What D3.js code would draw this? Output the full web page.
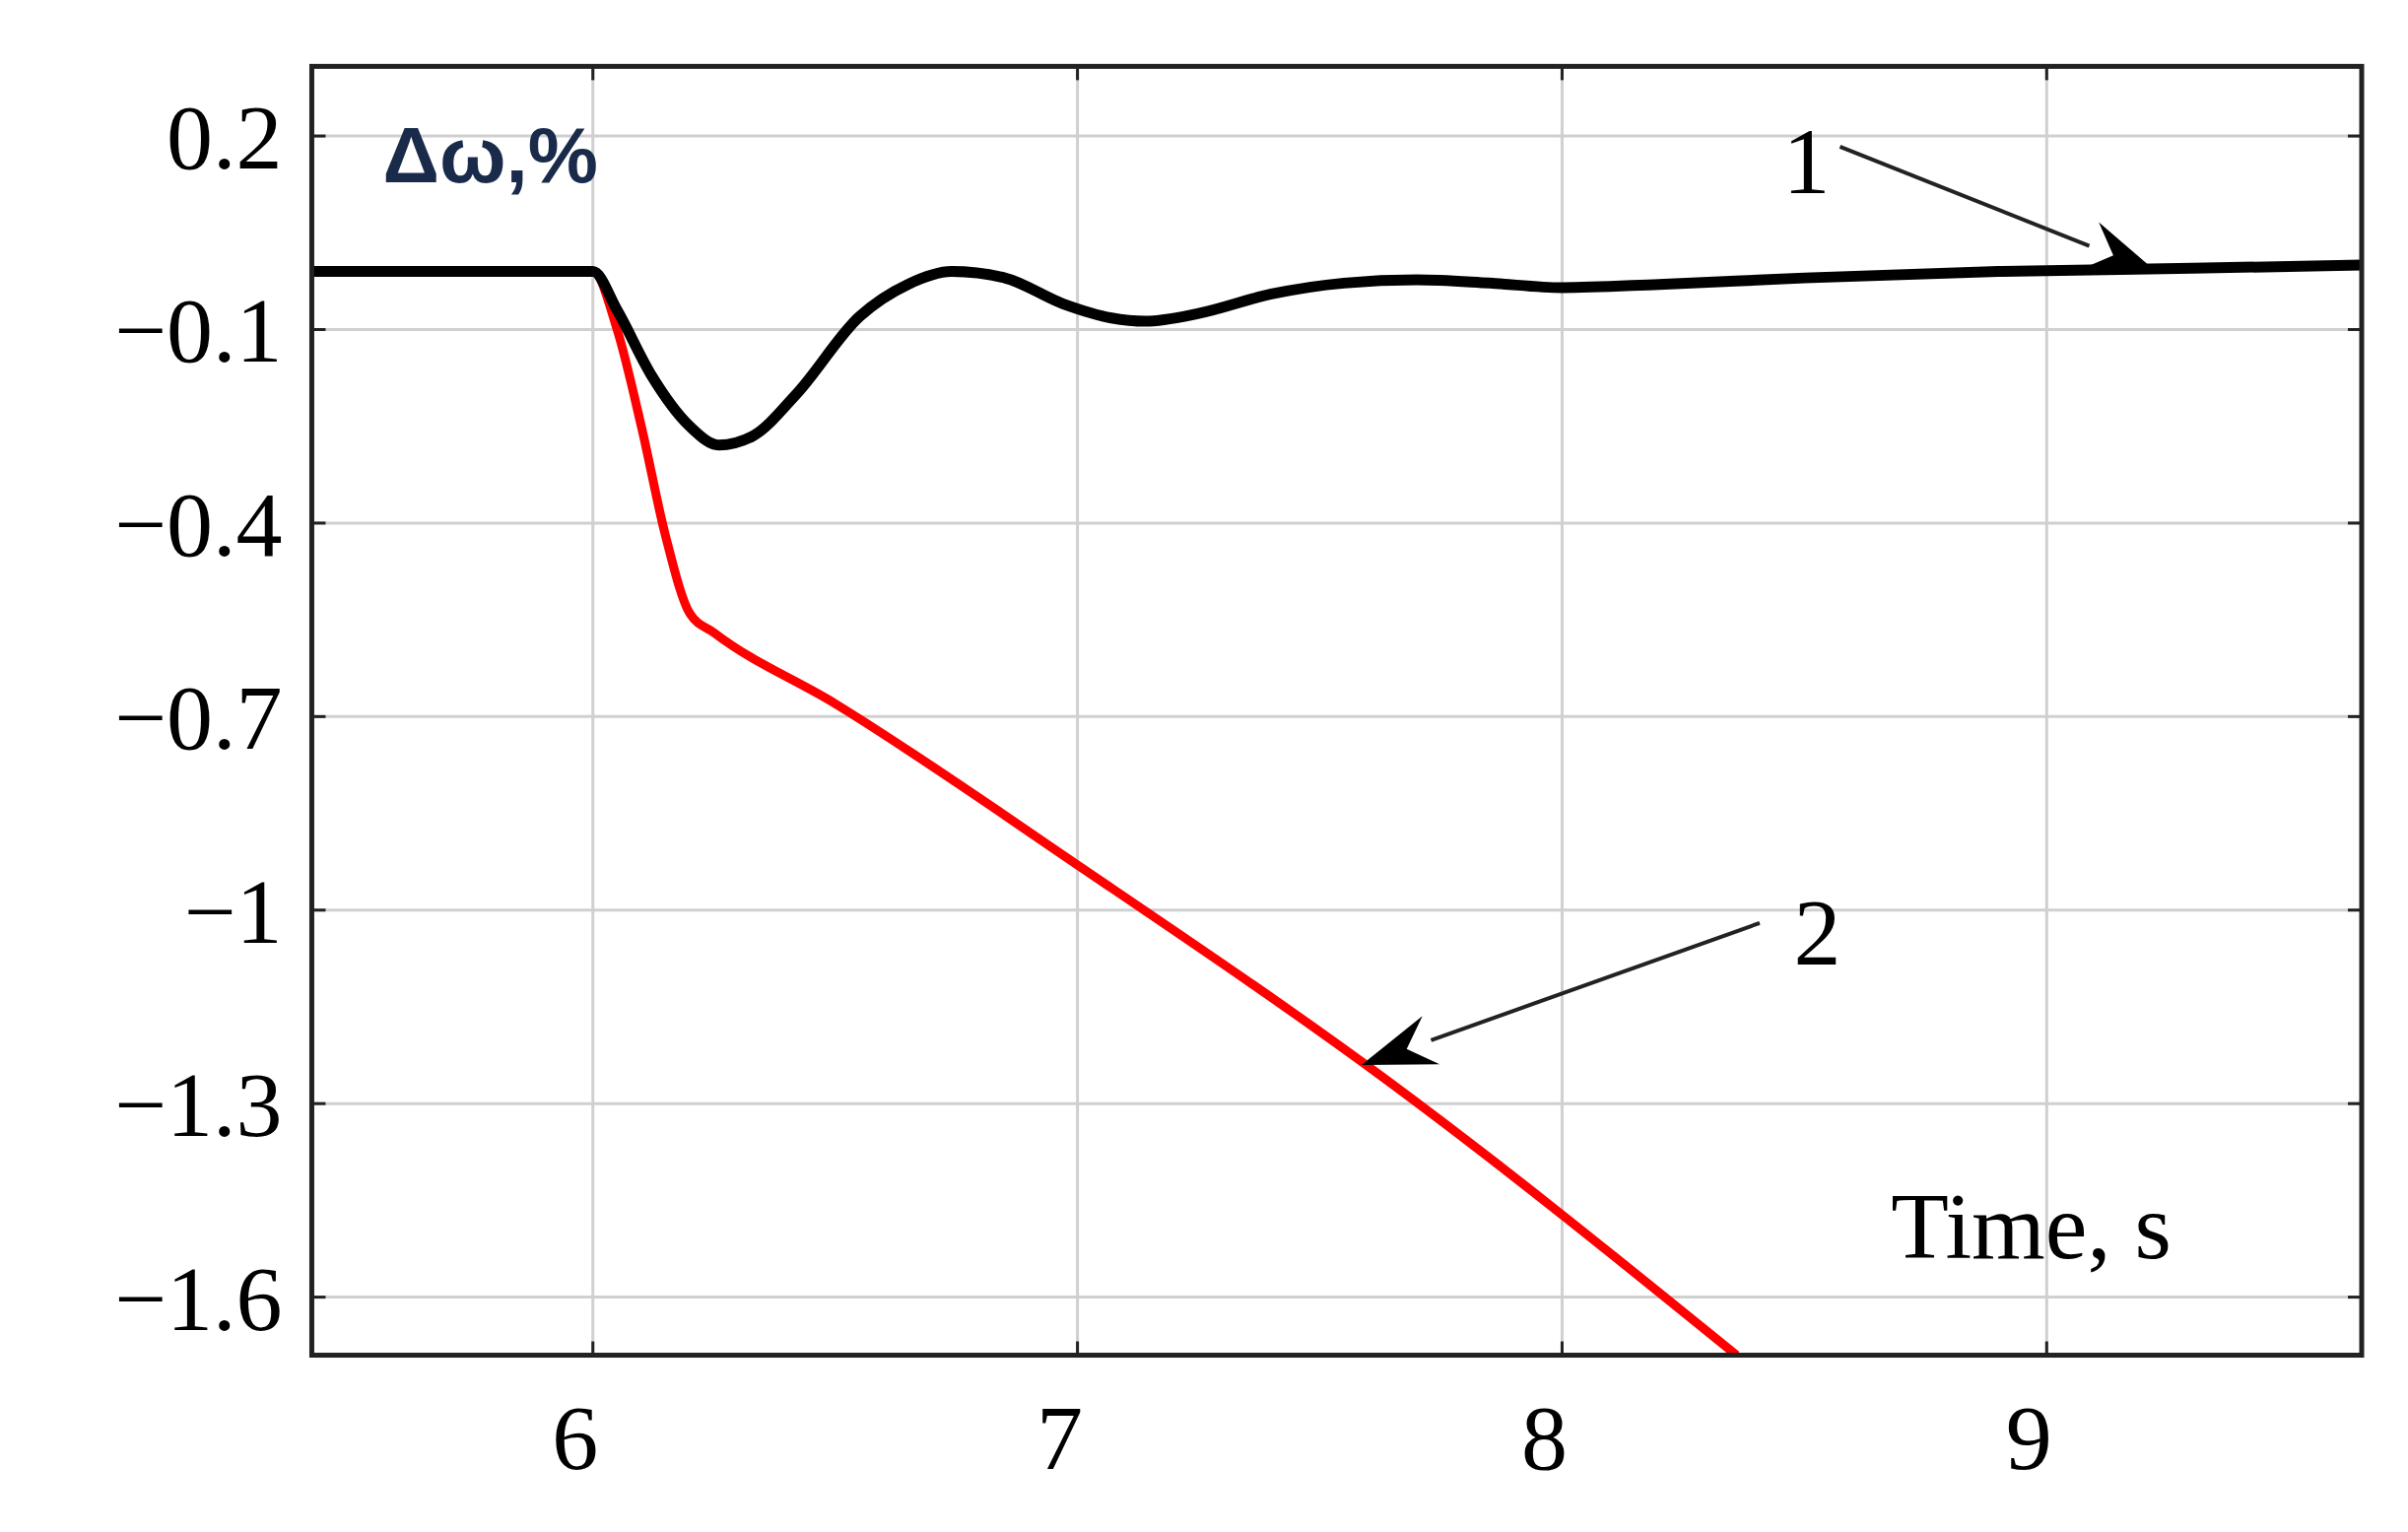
<!DOCTYPE html><html><head><meta charset="utf-8">
<script src="https://d3js.org/d3.v7.min.js"></script>
<style>body{margin:0;background:#fff}</style></head><body><svg id="c" width="2444" height="1555"></svg>
<script>
const xTicks=[6,7,8,9];
const yTicks=[0.2,-0.1,-0.4,-0.7,-1,-1.3,-1.6];
const yTickLabels=["0.2","\u22120.1","\u22120.4","\u22120.7","\u22121","\u22121.3","\u22121.6"];
const t1=[5.42,5.8,6.0,6.05,6.12,6.2,6.26,6.33,6.42,6.55,6.65,6.74,6.85,6.97,7.07,7.14,7.25,7.4,7.55,7.7,7.85,8.0,8.2,8.5,8.9,9.3,9.65];
const v1=[-0.01,-0.01,-0.01,-0.07,-0.17,-0.25,-0.279,-0.265,-0.2,-0.08,-0.03,-0.01,-0.02,-0.06,-0.082,-0.087,-0.075,-0.045,-0.028,-0.023,-0.028,-0.035,-0.03,-0.02,-0.01,-0.005,0.0];
const t2=[5.42,6.0,6.05,6.1,6.15,6.2,6.25,6.5,7.0,7.65,8.36];
const v2=[-0.01,-0.01,-0.1,-0.25,-0.42,-0.54,-0.57,-0.68,-0.93,-1.27,-1.69];
const k=2444/1560;
const L=202*k,R=1530*k,T=43*k,B=878*k;
const x=d3.scaleLinear().domain([5.42,9.65]).range([L,R]);
const y=d3.scaleLinear().domain([0.308,-1.69]).range([T,B]);
const svg=d3.select("#c");
const g=svg.append("g");
g.selectAll(".gx").data(xTicks).join("line").attr("x1",d=>x(d)).attr("x2",d=>x(d)).attr("y1",T).attr("y2",B).attr("stroke","#d0d0d0").attr("stroke-width",3);
g.selectAll(".gy").data(yTicks).join("line").attr("y1",d=>y(d)).attr("y2",d=>y(d)).attr("x1",L).attr("x2",R).attr("stroke","#d0d0d0").attr("stroke-width",3);
yTicks.forEach(d=>{g.append("line").attr("x1",L).attr("x2",L+14).attr("y1",y(d)).attr("y2",y(d)).attr("stroke","#222").attr("stroke-width",3);
g.append("line").attr("x1",R).attr("x2",R-14).attr("y1",y(d)).attr("y2",y(d)).attr("stroke","#222").attr("stroke-width",3);});
xTicks.forEach(d=>{g.append("line").attr("x1",x(d)).attr("x2",x(d)).attr("y1",T).attr("y2",T+14).attr("stroke","#222").attr("stroke-width",3);
g.append("line").attr("x1",x(d)).attr("x2",x(d)).attr("y1",B).attr("y2",B-14).attr("stroke","#222").attr("stroke-width",3);});
const font="'Liberation Serif','Times New Roman',serif";
yTicks.forEach((d,i)=>g.append("text").attr("x",L-30).attr("y",y(d)).attr("dy","0.35em").attr("text-anchor","end").attr("font-family",font).attr("font-size",94).text(yTickLabels[i]));
xTicks.forEach((d,i)=>g.append("text").attr("x",x(d)-18).attr("y",B+115).attr("text-anchor","middle").attr("font-family",font).attr("font-size",94).text(String(d)));
const line=d3.line().curve(d3.curveMonotoneX);
svg.append("defs").append("clipPath").attr("id","cp").append("rect").attr("x",L).attr("y",T).attr("width",R-L).attr("height",B-T);
g.append("path").attr("clip-path","url(#cp)").attr("d",line(t2.map((t,i)=>[x(t),y(v2[i])]))).attr("fill","none").attr("stroke","#ff0000").attr("stroke-width",9);
g.append("path").attr("clip-path","url(#cp)").attr("d",line(t1.map((t,i)=>[x(t),y(v1[i])]))).attr("fill","none").attr("stroke","#000").attr("stroke-width",11);
g.append("rect").attr("x",L).attr("y",T).attr("width",R-L).attr("height",B-T).attr("fill","none").attr("stroke","#222").attr("stroke-width",5);
g.append("text").attr("x",248*k).attr("y",118*k).attr("font-family","'Liberation Sans',Arial,sans-serif").attr("font-weight","bold").attr("font-size",80).attr("fill","#1a2a4a").text("\u0394\u03c9,%");
g.append("text").attr("x",1225*k).attr("y",815*k).attr("font-family",font).attr("font-size",96).text("Time, s");
g.append("text").attr("x",1155*k).attr("y",125*k).attr("font-family",font).attr("font-size",96).text("1");
g.append("text").attr("x",1162*k).attr("y",625*k).attr("font-family",font).attr("font-size",96).text("2");
function arrow(x1,y1,x2,y2){
 const a=Math.atan2(y2-y1,x2-x1),hl=75,hw=26;
 const bx=x2-hl*Math.cos(a),by=y2-hl*Math.sin(a);
 g.append("line").attr("x1",x1).attr("y1",y1).attr("x2",bx).attr("y2",by).attr("stroke","#222").attr("stroke-width",4);
 g.append("path").attr("d",`M${x2},${y2}L${bx+hw*Math.sin(a)},${by-hw*Math.cos(a)}L${bx+0.35*hl*Math.cos(a)},${by+0.35*hl*Math.sin(a)}L${bx-hw*Math.sin(a)},${by+hw*Math.cos(a)}Z`).attr("fill","#000");
}
arrow(1192*k,95*k,1398*k,177*k);
arrow(1140*k,598*k,882*k,690*k);
</script></body></html>
